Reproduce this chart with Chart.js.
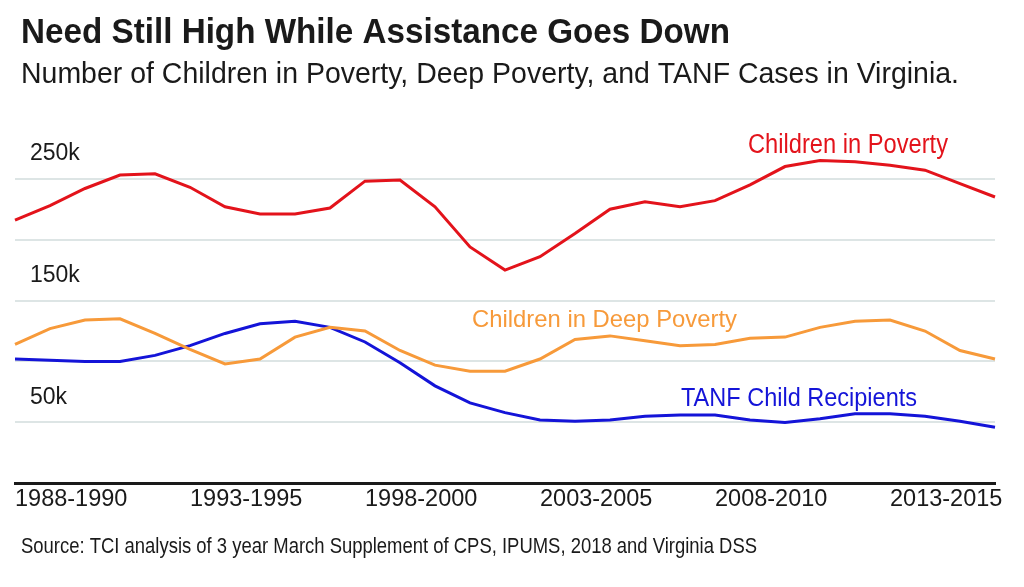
<!DOCTYPE html>
<html lang="en">
<head>
  <meta charset="UTF-8">
  <title>Need Still High While Assistance Goes Down</title>
  <script src="https://cdn.jsdelivr.net/npm/chart.js"></script>
  <style>
    html, body {
      margin: 0;
      padding: 0;
      background: #fff;
    }
    #wrap {
      width: 1024px;
      height: 587px;
    }
  </style>
</head>
<body>
  <div id="wrap"><canvas id="chart"></canvas></div>

  <script>
    // 3-year periods, values in thousands
    const periods = [
      '1988-1990', '1989-1991', '1990-1992', '1991-1993', '1992-1994',
      '1993-1995', '1994-1996', '1995-1997', '1996-1998', '1997-1999',
      '1998-2000', '1999-2001', '2000-2002', '2001-2003', '2002-2004',
      '2003-2005', '2004-2006', '2005-2007', '2006-2008', '2007-2009',
      '2008-2010', '2009-2011', '2010-2012', '2011-2013', '2012-2014',
      '2013-2015', '2014-2016', '2015-2017', '2016-2018'
    ];
    const poverty = [216, 228, 242, 253, 254, 243, 227, 221, 221, 226,
                     248, 249, 227, 194, 175, 186, 205, 225, 231, 227,
                     232, 245, 260, 265, 264, 261, 257, 246, 235];
    const deepPoverty = [114, 127, 134, 135, 123, 110, 98, 102, 120, 128,
                         125, 109, 97, 92, 92, 102, 118, 121, 117, 113,
                         114, 119, 120, 128, 133, 134, 125, 109, 102];
    const tanf = [102, 101, 100, 100, 105, 113, 123, 131, 133, 128,
                  116, 99, 80, 66, 58, 52, 51, 52, 55, 56,
                  56, 52, 50, 53, 57, 57, 55, 51, 46];
    const yTicks = [0, 50, 100, 150, 200, 250];
    const labeledTicks = [50, 150, 250];

    const FONT = "'Liberation Sans', Arial, sans-serif";

    // condensed look: text squeezed to the width it has in the original
    function drawSqueezed(ctx, text, x, y, font, width) {
      ctx.font = font;
      const s = width / ctx.measureText(text).width;
      ctx.save();
      ctx.translate(x, y);
      ctx.scale(s, 1);
      ctx.fillText(text, 0, 0);
      ctx.restore();
    }

    const seriesNotes = [
      { text: 'Children in Poverty', color: '#e3131b', x: 748, y: 153, size: 27, w: 200 },
      { text: 'Children in Deep Poverty', color: '#f79a3a', x: 472, y: 327, size: 24, w: 265 },
      { text: 'TANF Child Recipients', color: '#1414d8', x: 681, y: 406, size: 26, w: 236 }
    ];

    const textPlugin = {
      id: 'pageText',
      afterDraw(chart) {
        const ctx = chart.ctx;
        ctx.save();
        ctx.textBaseline = 'alphabetic';
        ctx.textAlign = 'left';
        ctx.fillStyle = '#1a1a1a';
        drawSqueezed(ctx, 'Need Still High While Assistance Goes Down', 21, 43, 'bold 35px ' + FONT, 709);
        drawSqueezed(ctx, 'Number of Children in Poverty, Deep Poverty, and TANF Cases in Virginia.', 21, 83, '29px ' + FONT, 938);
        drawSqueezed(ctx, 'Source: TCI analysis of 3 year March Supplement of CPS, IPUMS, 2018 and Virginia DSS', 21, 553, '22px ' + FONT, 736);
        seriesNotes.forEach(n => {
          ctx.fillStyle = n.color;
          drawSqueezed(ctx, n.text, n.x, n.y, n.size + 'px ' + FONT, n.w);
        });
        ctx.restore();
      }
    };

    new Chart(document.getElementById('chart'), {
      type: 'line',
      data: {
        labels: periods,
        datasets: [
          { label: 'Children in Poverty', data: poverty, borderColor: '#e3131b' },
          { label: 'Children in Deep Poverty', data: deepPoverty, borderColor: '#f79a3a' },
          { label: 'TANF Child Recipients', data: tanf, borderColor: '#1414d8' }
        ]
      },
      options: {
        responsive: true,
        maintainAspectRatio: false,
        animation: false,
        layout: { padding: { left: 0, right: 29, top: 130, bottom: 71.5 } },
        elements: {
          point: { radius: 0 },
          line: { borderWidth: 3, tension: 0 }
        },
        plugins: {
          legend: { display: false },
          tooltip: { enabled: false }
        },
        scales: {
          x: {
            grid: { display: false, drawTicks: false },
            border: { display: true, color: '#1a1a1a', width: 3 },
            ticks: {
              autoSkip: false,
              maxRotation: 0,
              align: 'start',
              padding: 2,
              color: '#1a1a1a',
              font: { family: FONT, size: 23.5 },
              callback: (v, i) => i % 5 === 0 ? periods[i] : ''
            }
          },
          y: {
            min: 0,
            max: 290,
            afterBuildTicks: axis => {
              axis.ticks = yTicks.map(v => ({ value: v }));
            },
            afterFit: axis => {
              axis.width = 15;
            },
            grid: {
              drawTicks: false,
              lineWidth: 2,
              color: c => c.tick && c.tick.value === 0 ? 'rgba(0,0,0,0)' : '#dde5e5'
            },
            border: { display: false },
            ticks: {
              autoSkip: false,
              mirror: true,
              padding: 15,
              color: '#1a1a1a',
              font: { family: FONT, size: 23, lineHeight: 2.15 },
              callback: v => labeledTicks.includes(v) ? [v + 'k', ''] : ''
            }
          }
        }
      },
      plugins: [textPlugin]
    });
  </script>
</body>
</html>
